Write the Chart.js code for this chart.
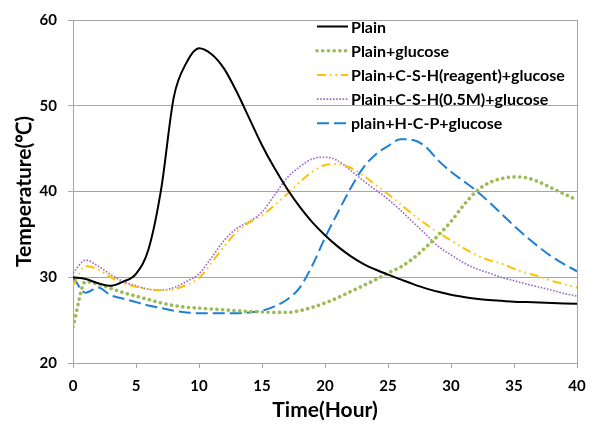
<!DOCTYPE html>
<html>
<head>
<meta charset="utf-8">
<script src="https://cdn.jsdelivr.net/npm/chart.js@4.4.1/dist/chart.umd.min.js"></script>
<style>
  html, body { margin: 0; padding: 0; background: #fff; }
  #wrap { width: 597px; height: 424px; }
</style>
</head>
<body>
<div id="wrap"><canvas id="tempChart" width="597" height="424"></canvas></div>
<script>
// hours 0..40
const hours = Array.from({ length: 41 }, (_, i) => i);

const plain = [30.0, 29.8, 29.3, 29.0, 29.5, 30.4, 33.3, 40.3, 51.0, 55.0, 56.7, 56.0, 54.3, 51.6, 48.5, 45.4, 42.7, 40.3, 38.2, 36.4, 34.9, 33.6, 32.5, 31.6, 30.9, 30.3, 29.75, 29.2, 28.7, 28.3, 27.95, 27.7, 27.5, 27.35, 27.25, 27.15, 27.1, 27.05, 27.0, 26.95, 26.9];
const plainGlucose = [24.2, 29.5, 29.2, 28.7, 28.2, 27.8, 27.4, 27.0, 26.7, 26.5, 26.4, 26.3, 26.2, 26.1, 26.0, 25.95, 25.9, 25.9, 26.1, 26.5, 27.0, 27.6, 28.3, 29.0, 29.7, 30.5, 31.2, 32.2, 33.5, 34.9, 36.5, 38.4, 40.0, 41.0, 41.5, 41.7, 41.6, 41.1, 40.4, 39.7, 39.0];
const cshReagent = [29.0, 31.3, 30.9, 30.0, 29.3, 28.9, 28.6, 28.5, 28.6, 29.1, 29.9, 31.7, 33.6, 35.3, 36.4, 37.2, 38.4, 39.7, 41.1, 42.3, 43.1, 43.2, 42.8, 41.9, 40.8, 39.7, 38.5, 37.3, 36.2, 35.2, 34.3, 33.4, 32.6, 32.0, 31.6, 31.0, 30.5, 30.1, 29.6, 29.2, 28.8];
const csh05M = [30.5, 32.0, 31.3, 30.3, 29.5, 29.0, 28.6, 28.5, 28.8, 29.5, 30.4, 32.3, 34.3, 35.7, 36.5, 37.6, 39.6, 41.6, 42.9, 43.8, 44.0, 43.6, 42.5, 41.3, 40.2, 39.1, 37.8, 36.4, 35.0, 33.6, 32.6, 31.7, 31.0, 30.5, 30.0, 29.6, 29.2, 28.85, 28.5, 28.1, 27.8];
const hcp = [30.0, 28.2, 28.8, 27.9, 27.5, 27.1, 26.7, 26.4, 26.1, 25.9, 25.8, 25.8, 25.8, 25.8, 25.9, 26.1, 26.6, 27.4, 28.8, 31.4, 34.6, 37.5, 40.3, 42.7, 44.3, 45.3, 46.1, 46.0, 45.2, 43.6, 42.3, 41.2, 40.1, 38.8, 37.4, 36.0, 34.7, 33.5, 32.4, 31.5, 30.7];

const seriesLabels = ['Plain', 'Plain+glucose', 'Plain+C-S-H(reagent)+glucose', 'Plain+C-S-H(0.5M)+glucose', 'plain+H-C-P+glucose'];
const xTicks = [0, 5, 10, 15, 20, 25, 30, 35, 40];
const yTicks = [20, 30, 40, 50, 60];

const gridGray = '#a6a6a6';
const boldFont = (size) => ({ family: 'Lato', size: size, weight: 'bold' });

function line(label, values, color, width, dash, cap) {
  return {
    label: label,
    data: hours.map((h, i) => ({ x: h, y: values[i] })),
    borderColor: color,
    borderWidth: width,
    borderDash: dash,
    borderCapStyle: cap || 'butt',
    pointRadius: 0,
    fill: false,
    cubicInterpolationMode: 'monotone',
  };
}

// legend drawn inside the plot, top right
const innerLegend = {
  id: 'innerLegend',
  afterDraw(chart) {
    const ctx = chart.ctx;
    const x0 = 317, x1 = 348, tx = 351;
    ctx.save();
    ctx.font = 'bold 16px Lato';
    ctx.textBaseline = 'middle';
    ctx.fillStyle = '#000';
    chart.data.datasets.forEach((ds, i) => {
      const y = 26.5 + i * 24.2;
      ctx.beginPath();
      ctx.strokeStyle = ds.borderColor;
      ctx.lineWidth = ds.borderWidth;
      ctx.lineCap = ds.borderCapStyle;
      ctx.setLineDash(ds.borderDash);
      ctx.moveTo(x0, y);
      ctx.lineTo(x1, y);
      ctx.stroke();
      ctx.setLineDash([]);
      ctx.fillText(ds.label, tx, y + 1);
    });
    ctx.restore();
  }
};

const tempCtx = document.getElementById('tempChart').getContext('2d');

const tempChart = new Chart(tempCtx, {
  type: 'line',
  data: {
    datasets: [
      line(seriesLabels[0], plain, '#000000', 2, []),
      line(seriesLabels[1], plainGlucose, '#9bbb59', 3.6, [0.1, 5.6], 'round'),
      line(seriesLabels[2], cshReagent, '#ffc000', 2, [9, 4, 1.5, 4, 1.5, 4]),
      line(seriesLabels[3], csh05M, '#9966cc', 1.6, [1.6, 1.6]),
      line(seriesLabels[4], hcp, '#1f7fd0', 2, [12, 5]),
    ]
  },
  options: {
    responsive: false,
    animation: false,
    layout: { padding: { left: 0, right: 20, top: 13, bottom: 0 } },
    plugins: {
      legend: { display: false },
      tooltip: { enabled: false },
    },
    scales: {
      x: {
        type: 'linear',
        min: 0,
        max: 40,
        afterBuildTicks: (scale) => { scale.ticks = xTicks.map(v => ({ value: v })); },
        afterFit: (scale) => { scale.height = 61; },
        ticks: { color: '#000', font: boldFont(15), padding: 9, maxRotation: 0 },
        grid: {
          color: (c) => (c.tick && c.tick.value === 40 ? gridGray : 'rgba(0,0,0,0)'),
          tickColor: gridGray,
          tickLength: 5,
          lineWidth: 1,
        },
        border: { color: gridGray, width: 1 },
        title: {
          display: true,
          text: 'Time(Hour)',
          color: '#000',
          font: boldFont(21),
          padding: { top: 0, bottom: 1 },
        },
      },
      y: {
        min: 20,
        max: 60,
        afterBuildTicks: (scale) => { scale.ticks = yTicks.map(v => ({ value: v })); },
        afterFit: (scale) => { scale.width = 73; },
        ticks: { color: '#000', font: boldFont(15), padding: 11 },
        grid: { color: gridGray, tickColor: gridGray, tickLength: 5, lineWidth: 1 },
        border: { color: gridGray, width: 1 },
        title: {
          display: true,
          text: 'Temperature(℃)',
          color: '#000',
          font: boldFont(21),
          padding: { top: 12, bottom: 0 },
        },
      },
    },
  },
  plugins: [innerLegend],
});
</script>
</body>
</html>
